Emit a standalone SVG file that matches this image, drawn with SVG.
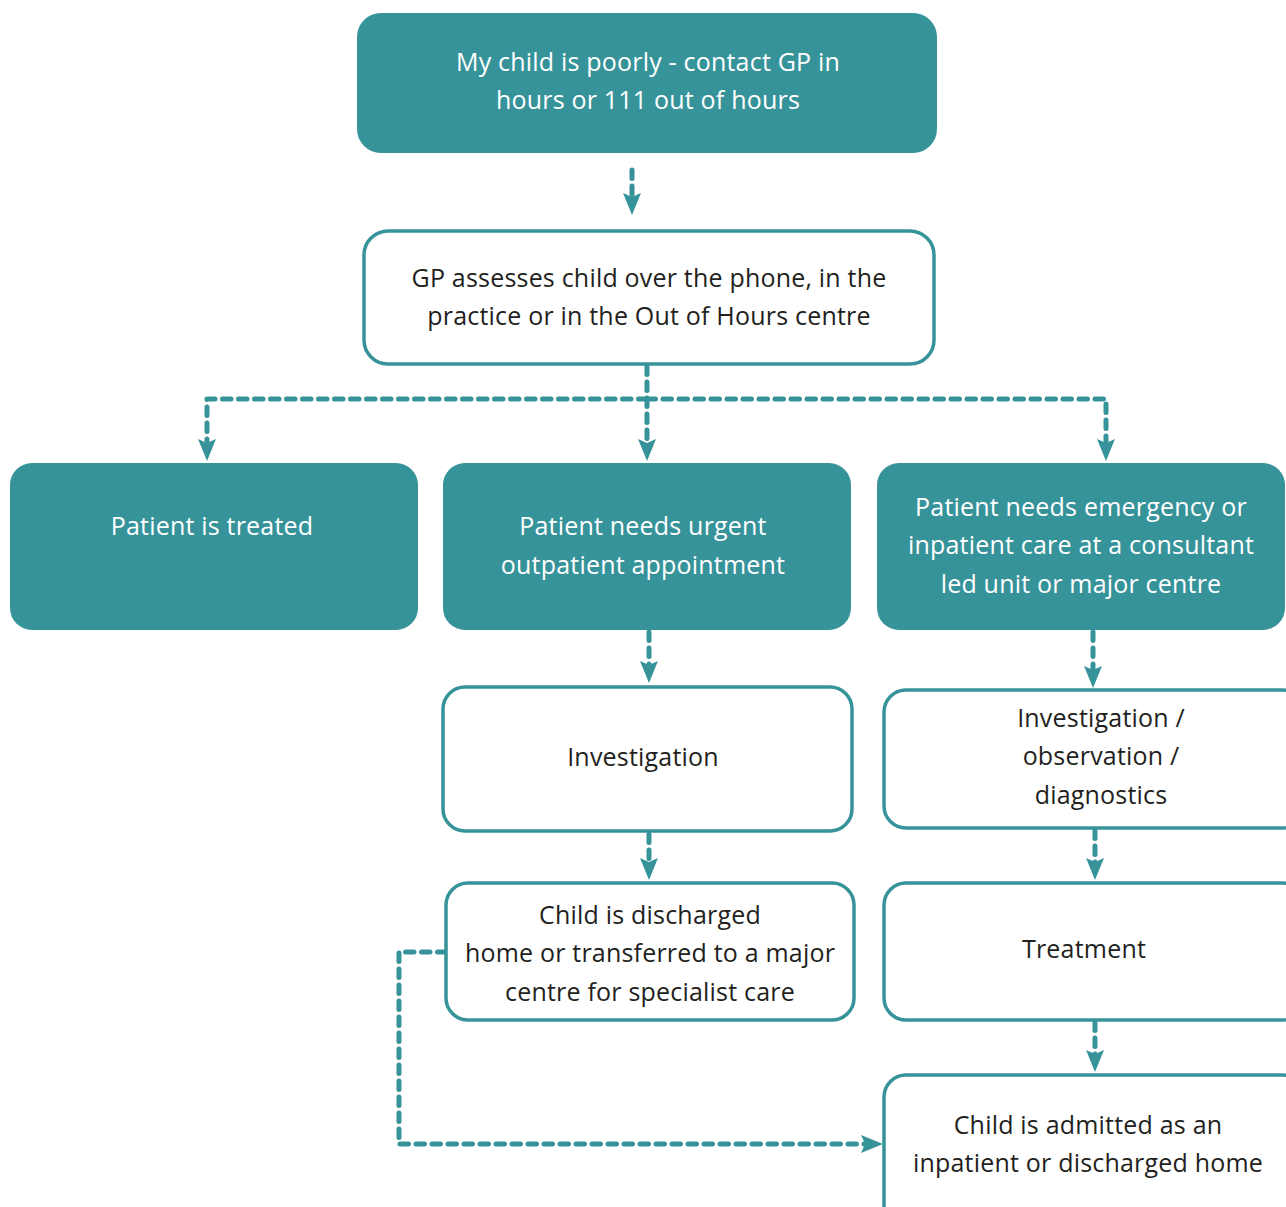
<svg xmlns="http://www.w3.org/2000/svg" width="1286" height="1207" viewBox="0 0 1286 1207">
<defs>
<style>
.fill{fill:#37939a;}
.out{fill:#ffffff;stroke:#37939a;stroke-width:3.5;}
.tw{fill:#ffffff;font-family:"Open Sans","Noto Sans",sans-serif;font-size:25px;letter-spacing:0.2px;text-anchor:middle;}
.td{fill:#231f20;font-family:"Open Sans","Noto Sans",sans-serif;font-size:25px;letter-spacing:0.2px;text-anchor:middle;}
.con{fill:none;stroke:#37939a;stroke-width:5;stroke-linecap:round;stroke-linejoin:round;stroke-dasharray:8.5 7.5;}
</style>
<marker id="ah" viewBox="0 0 22 18" refX="10" refY="9" markerWidth="22" markerHeight="18" markerUnits="userSpaceOnUse" orient="auto">
<path d="M0,0 L22,9 L0,18 L4,9 Z" fill="#37939a"/>
</marker>
</defs>
<rect width="1286" height="1207" fill="#ffffff"/>

<g id="connectors">
<path class="con" d="M632,170 V203" marker-end="url(#ah)"/>
<path class="con" d="M647,366 V449" marker-end="url(#ah)"/>
<path class="con" d="M647,399 H207 V449" marker-end="url(#ah)"/>
<path class="con" d="M647,399 H1106 V449" marker-end="url(#ah)"/>
<path class="con" d="M649,632 V671" marker-end="url(#ah)"/>
<path class="con" d="M649,834 V868" marker-end="url(#ah)"/>
<path class="con" d="M1093,632 V676" marker-end="url(#ah)"/>
<path class="con" d="M1095,830 V868" marker-end="url(#ah)"/>
<path class="con" d="M1095,1022 V1060" marker-end="url(#ah)"/>
<path class="con" d="M446,952 H399 V1144 H871" marker-end="url(#ah)"/>
</g>

<g id="n1">
<rect class="fill" x="357" y="13" width="580" height="140" rx="24"/>
<text class="tw" x="648" y="71">My child is poorly - contact GP in</text>
<text class="tw" x="648" y="109">hours or 111 out of hours</text>
</g>
<g id="n2">
<rect class="out" x="364" y="231" width="570" height="133" rx="24"/>
<text class="td" x="649" y="287">GP assesses child over the phone, in the</text>
<text class="td" x="649" y="325">practice or in the Out of Hours centre</text>
</g>
<g id="n3">
<rect class="fill" x="10" y="463" width="408" height="167" rx="22"/>
<text class="tw" x="212" y="535">Patient is treated</text>
</g>
<g id="n4">
<rect class="fill" x="443" y="463" width="408" height="167" rx="22"/>
<text class="tw" x="643" y="535">Patient needs urgent</text>
<text class="tw" x="643" y="574">outpatient appointment</text>
</g>
<g id="n5">
<rect class="fill" x="877" y="463" width="408" height="167" rx="22"/>
<text class="tw" x="1081" y="516">Patient needs emergency or</text>
<text class="tw" x="1081" y="554">inpatient care at a consultant</text>
<text class="tw" x="1081" y="593">led unit or major centre</text>
</g>
<g id="n6">
<rect class="out" x="443" y="687" width="409" height="144" rx="22"/>
<text class="td" x="643" y="766">Investigation</text>
</g>
<g id="n7">
<rect class="out" x="446" y="883" width="408" height="137" rx="22"/>
<text class="td" x="650" y="924">Child is discharged</text>
<text class="td" x="650" y="962">home or transferred to a major</text>
<text class="td" x="650" y="1001">centre for specialist care</text>
</g>
<g id="n8">
<rect class="out" x="884" y="690" width="420" height="138" rx="22"/>
<text class="td" x="1101" y="727">Investigation /</text>
<text class="td" x="1101" y="765">observation /</text>
<text class="td" x="1101" y="804">diagnostics</text>
</g>
<g id="n9">
<rect class="out" x="884" y="883" width="420" height="137" rx="22"/>
<text class="td" x="1084" y="958">Treatment</text>
</g>
<g id="n10">
<rect class="out" x="884" y="1075" width="420" height="160" rx="22"/>
<text class="td" x="1088" y="1134">Child is admitted as an</text>
<text class="td" x="1088" y="1172">inpatient or discharged home</text>
</g>
</svg>
